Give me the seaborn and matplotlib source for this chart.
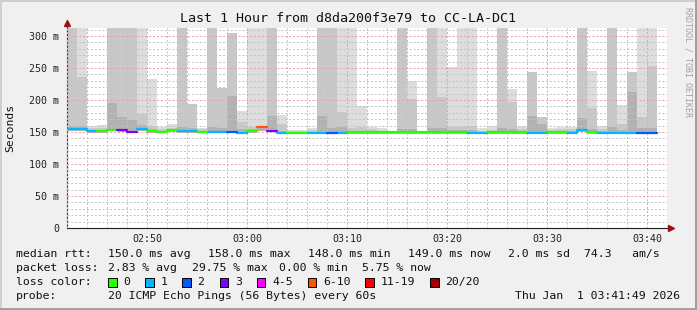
import numpy as np
import pandas as pd
import matplotlib
matplotlib.use("Agg")
import matplotlib.pyplot as plt
import seaborn as sns
from matplotlib.patches import Rectangle
from matplotlib.lines import Line2D

# ---------------- data (minutes since 02:42, one bar per minute) ----------------
minute_index = list(range(59))
tick_minutes = [8, 18, 28, 38, 48, 58]
tick_labels = ["02:50", "03:00", "03:10", "03:20", "03:30", "03:40"]
y_ticks = [0, 50, 100, 150, 200, 250, 300]
y_tick_labels = ["0", "50 m", "100 m", "150 m", "200 m", "250 m", "300 m"]

median_ms = [155, 155, 151.5, 151.5, 153.5, 152.5, 150.5, 155, 152, 150,
             153, 151.5, 152, 150, 150, 150, 150, 148.5, 151.5, 158,
             152, 148.5, 149, 149, 149, 149, 149, 149, 149.5, 149.5,
             149.5, 149.5, 149.5, 149.5, 149.5, 149.5, 149.5, 149.5, 149.5, 149.5,
             148.5, 148.5, 149.5, 149.5, 149.5, 149.5, 148.5, 148.5, 149.5, 149.5,
             148.5, 153.5, 149.5, 148.5, 148.5, 148.5, 148.5, 148.5, 148.5]

loss_index = [1, 1, 1, 0, 0, 3, 3, 1, 0, 0,
              0, 1, 1, 0, 1, 1, 2, 1, 0, 5,
              3, 1, 0, 0, 1, 1, 2, 1, 0, 0,
              0, 0, 0, 0, 0, 0, 0, 0, 0, 0,
              1, 1, 0, 0, 0, 0, 1, 1, 0, 0,
              1, 1, 0, 1, 1, 1, 1, 2, 2]

smoke_lo = [152, 152, 149, 149, 151, 150, 148, 152, 149, 148,
            150, 149, 149, 148, 148, 148, 148, 147, 149, 151,
            150, 147, 147.5, 147.5, 147.5, 147.5, 147.5, 147.5, 147.5, 147.5,
            147.5, 147.5, 147.5, 147.5, 147.5, 147.5, 147.5, 147.5, 147.5, 147.5,
            147.5, 147.5, 147.5, 147.5, 147.5, 147.5, 147.5, 147.5, 147.5, 147.5,
            147.5, 150, 147.5, 147.5, 147.5, 147.5, 147.5, 147.5, 147.5]

smoke_max = [320, 320, 159, 161, 320, 320, 320, 320, 233, 158,
             162, 320, 194, 157, 320, 219, 305, 183, 320, 320,
             320, 177, 153, 153, 157, 320, 320, 320, 320, 191,
             158, 156, 151, 320, 230, 151, 320, 320, 251, 320,
             320, 156, 160, 320, 217, 160, 243, 174, 157, 158,
             158, 320, 245, 160, 320, 192, 243, 320, 320]

smoke_mid = [320, 236, 156, 156, 320, 320, 320, 178, 160, 154,
             157, 320, 194, 154, 320, 219, 305, 165, 158, 160,
             320, 163, 151, 151, 153, 320, 320, 181, 156, 158,
             155, 152, 150, 320, 202, 150, 320, 204, 158, 158,
             159, 152, 153, 320, 197, 154, 243, 174, 153, 155,
             154, 320, 188, 154, 320, 162, 243, 174, 253]

smoke_core = [159, 159, 153, 153, 196, 173, 168, 161, 155, 151,
              153, 158, 157, 151, 158, 157, 206, 155, 154, 156,
              175, 152, 149, 149, 150, 175, 157, 158, 152, 152,
              151, 150, 149, 155, 155, 149, 157, 156, 153, 153,
              153, 150, 150, 157, 155, 151, 175, 162, 150, 151,
              151, 172, 155, 151, 158, 153, 213, 157, 157]

loss_labels = ["0", "1", "2", "3", "4-5", "6-10", "11-19", "20/20"]
loss_colors = ["#26ff00", "#00b8ff", "#0059ff", "#7e00ff",
               "#ff00ff", "#ff5500", "#ff0000", "#a10000"]

# ---------------- style ----------------
sns.set_style("white")
plt.rcParams["font.family"] = ["DejaVu Sans Mono"]
plt.rcParams["lines.scale_dashes"] = False

W, H = 697, 310
fig = plt.figure(figsize=(W / 100, H / 100), dpi=100, facecolor="#f0f0f0")
ax = fig.add_axes([67 / W, 82 / H, 600 / W, 200 / H])
ax.set_facecolor("white")

t = np.array(minute_index, dtype=float)
lo = np.array(smoke_lo)
for tops, col in [(smoke_max, "#dddddd"), (smoke_mid, "#c8c8c8"), (smoke_core, "#b2b2b2")]:
    tops = np.array(tops, dtype=float)
    ax.bar(t, np.clip(tops - lo, 0, None), bottom=lo, width=1.0, align="edge",
           color=col, linewidth=0, zorder=1)

# median line, one step series per run of identical loss colour
rows = []
run = 0
n = len(minute_index)
for i in range(n):
    if i > 0 and loss_index[i] != loss_index[i - 1]:
        run += 1
    rows.append((minute_index[i], median_ms[i], run, loss_labels[loss_index[i]]))
    if i == n - 1 or loss_index[i + 1] != loss_index[i]:
        rows.append((minute_index[i] + 1, median_ms[i], run, loss_labels[loss_index[i]]))
df = pd.DataFrame(rows, columns=["t", "ms", "run", "loss"])
sns.lineplot(data=df, x="t", y="ms", hue="loss", units="run", estimator=None,
             palette=dict(zip(loss_labels, loss_colors)), drawstyle="steps-post",
             linewidth=1.6, legend=False, ax=ax, zorder=3)

ax.set_xlim(0, 60)
ax.set_ylim(0, 312.5)
ax.set_xlabel("")
ax.set_ylabel("")

ax.set_xticks(tick_minutes)
ax.set_xticklabels(tick_labels)
ax.set_xticks(range(0, 61, 2), minor=True)
ax.set_yticks(y_ticks)
ax.set_yticklabels(y_tick_labels)
ax.set_yticks(range(0, 311, 10), minor=True)

ax.set_axisbelow(False)
ax.grid(which="minor", color="#c2c2c2", linestyle=(0, (1.4, 1.4)), linewidth=0.72, zorder=2)
ax.grid(which="major", color="#e9a0a0", linestyle=(0, (1.4, 1.4)), linewidth=0.72, zorder=2)

ax.tick_params(axis="both", which="major", labelsize=7.2, length=3, width=0.7,
               direction="inout", color="#555555", labelcolor="#222222")
ax.tick_params(axis="x", which="major", pad=3)
ax.tick_params(axis="y", which="major", pad=4)
ax.tick_params(axis="both", which="minor", length=2, width=0.6,
               direction="in", color="#999999")

for s in ["top", "right"]:
    ax.spines[s].set_visible(False)
ax.spines["left"].set_color("#303030")
ax.spines["bottom"].set_color("#202020")
ax.spines["left"].set_linewidth(0.8)
ax.spines["bottom"].set_linewidth(0.8)

# axis arrows
ax.plot([0, 0], [1, 1.025], transform=ax.transAxes, clip_on=False, color="#303030", lw=0.8)
ax.plot([0], [1.025], transform=ax.transAxes, clip_on=False, marker="^", ms=4.5,
        color="#a01010", linestyle="none")
ax.plot([1, 1.006], [0, 0], transform=ax.transAxes, clip_on=False, color="#202020", lw=0.8)
ax.plot([1.006], [0], transform=ax.transAxes, clip_on=False, marker=">", ms=4.5,
        color="#a01010", linestyle="none")

def fx(px):
    return px / W

def fy(py):
    return 1 - py / H

fig.text(fx(348), fy(19), "Last 1 Hour from d8da200f3e79 to CC-LA-DC1",
         ha="center", va="center", fontsize=9.6, color="#111111")
fig.text(fx(10), fy(128), "Seconds", rotation=90, ha="center", va="center",
         fontsize=8.2, color="#111111")
fig.text(fx(688), fy(62), "RRDTOOL / TOBI OETIKER", rotation=270, ha="center",
         va="center", fontsize=6.0, color="#a0a0a0")

fs = 8.25
line1 = [("median rtt:", 16), ("150.0 ms avg", 107.6), ("158.0 ms max", 207.6),
         ("148.0 ms min", 307.6), ("149.0 ms now", 407.6), ("2.0 ms sd", 507.6),
         ("74.3   am/s", 584)]
line2 = [("packet loss:", 16), ("2.83 % avg", 107.6), ("29.75 % max", 192),
         ("0.00 % min", 279), ("5.75 % now", 362)]
for txt, x in line1:
    fig.text(fx(x), fy(254), txt, ha="left", va="center", fontsize=fs, color="#111111")
for txt, x in line2:
    fig.text(fx(x), fy(268), txt, ha="left", va="center", fontsize=fs, color="#111111")

fig.text(fx(16), fy(282), "loss color:", ha="left", va="center", fontsize=fs, color="#111111")
box_x = [108, 145, 182, 219.5, 256.5, 307.5, 365, 430]
for bx, lab, col in zip(box_x, loss_labels, loss_colors):
    fig.add_artist(Rectangle((fx(bx), fy(286.5)), 8.5 / W, 8.5 / H, transform=fig.transFigure,
                             facecolor=col, edgecolor="#000000", linewidth=0.7))
    fig.text(fx(bx + 15.5), fy(282), lab, ha="left", va="center", fontsize=fs, color="#111111")

fig.text(fx(16), fy(296), "probe:", ha="left", va="center", fontsize=fs, color="#111111")
fig.text(fx(107.6), fy(296), "20 ICMP Echo Pings (56 Bytes) every 60s", ha="left",
         va="center", fontsize=fs, color="#111111")
fig.text(fx(680), fy(296), "Thu Jan  1 03:41:49 2026", ha="right", va="center",
         fontsize=fs, color="#111111")

# frame shading
fig.add_artist(Line2D([0, 1], [1 - 0.5 / H, 1 - 0.5 / H], transform=fig.transFigure, color="#cfcfcf", lw=1.4))
fig.add_artist(Line2D([0.5 / W, 0.5 / W], [0, 1], transform=fig.transFigure, color="#cfcfcf", lw=1.4))
fig.add_artist(Line2D([0, 1], [1 / H, 1 / H], transform=fig.transFigure, color="#9e9e9e", lw=1.4))
fig.add_artist(Line2D([1 - 1 / W, 1 - 1 / W], [0, 1], transform=fig.transFigure, color="#9e9e9e", lw=1.4))

fig.savefig("out.png", dpi=100, facecolor=fig.get_facecolor())
